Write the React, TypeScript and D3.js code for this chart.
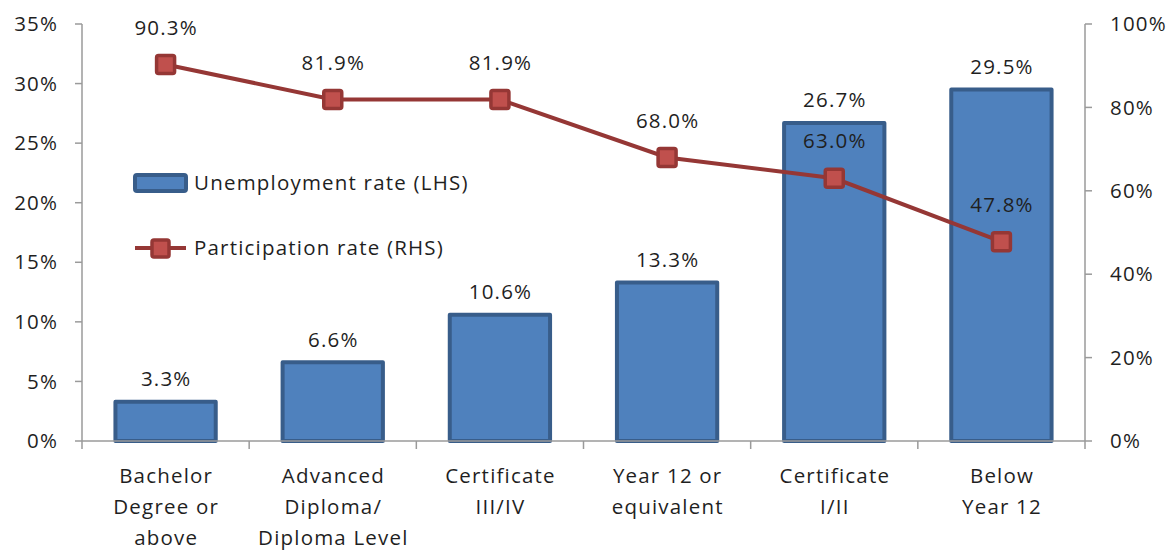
import React, { useEffect, useRef } from "react";
import * as d3 from "d3";

const categories = [
  ["Bachelor", "Degree or", "above"],
  ["Advanced", "Diploma/", "Diploma Level"],
  ["Certificate", "III/IV"],
  ["Year 12 or", "equivalent"],
  ["Certificate", "I/II"],
  ["Below", "Year 12"],
];
const unemployment = [3.3, 6.6, 10.6, 13.3, 26.7, 29.5];
const participation = [90.3, 81.9, 81.9, 68.0, 63.0, 47.8];
const leftTicks = [0, 5, 10, 15, 20, 25, 30, 35];
const rightTicks = [0, 20, 40, 60, 80, 100];

const W = 1172, H = 556;
const FONT = "'Open Sans', Lato, sans-serif";
const FS = 20.5;
const LS = 1.2;

export default function App() {
  const ref = useRef<SVGSVGElement>(null);
  useEffect(() => {
    const svg = d3.select(ref.current);
    svg.selectAll("*").remove();
    const x0 = 82, x1 = 1085, yTop = 24, yBot = 441;
    const x = d3.scaleBand<number>().domain(d3.range(categories.length)).range([x0, x1]).paddingInner(0.4).paddingOuter(0.2);
    const band = (x1 - x0) / categories.length;
    const yL = d3.scaleLinear().domain([0, 35]).range([yBot, yTop]);
    const yR = d3.scaleLinear().domain([0, 100]).range([yBot, yTop]);
    const axisColor = "#9a9a9a";
    const txt = "#1f1f1f";
    const g = svg.append("g");
    const label = (xx: number, yy: number, s: string, anchor: string, dy = "0.35em") => {
      const shift = anchor === "middle" ? LS / 2 : anchor === "end" ? LS : 0;
      g.append("text").attr("x", xx + shift).attr("y", yy).attr("dy", dy).attr("text-anchor", anchor)
        .attr("font-family", FONT).attr("font-size", FS).attr("letter-spacing", LS).attr("fill", txt).text(s);
    };

    // axes
    g.append("line").attr("x1", x0).attr("x2", x0).attr("y1", yTop).attr("y2", yBot).attr("stroke", axisColor).attr("stroke-width", 1.5);
    g.append("line").attr("x1", x1).attr("x2", x1).attr("y1", yTop).attr("y2", yBot).attr("stroke", axisColor).attr("stroke-width", 1.5);
    leftTicks.forEach((t) => {
      g.append("line").attr("x1", x0 - 7).attr("x2", x0).attr("y1", yL(t)).attr("y2", yL(t)).attr("stroke", axisColor).attr("stroke-width", 1.5);
      label(57, yL(t), `${t}%`, "end");
    });
    rightTicks.forEach((t) => {
      g.append("line").attr("x1", x1).attr("x2", x1 + 7).attr("y1", yR(t)).attr("y2", yR(t)).attr("stroke", axisColor).attr("stroke-width", 1.5);
      label(1110, yR(t), `${t}%`, "start");
    });
    // category ticks
    d3.range(categories.length + 1).forEach((i) => {
      const xx = x0 + i * band;
      g.append("line").attr("x1", xx).attr("x2", xx).attr("y1", yBot).attr("y2", yBot + 8).attr("stroke", axisColor).attr("stroke-width", 1.5);
    });

    // bars
    unemployment.forEach((v, i) => {
      g.append("rect").attr("x", x(i)!).attr("width", x.bandwidth()).attr("y", yL(v)).attr("height", yBot - yL(v))
        .attr("fill", "#4F81BD").attr("stroke", "#385D8A").attr("stroke-width", 4).attr("stroke-linejoin", "round");
      label(x(i)! + x.bandwidth() / 2, yL(v) - 23, `${v.toFixed(1)}%`, "middle");
    });
    g.append("line").attr("x1", x0).attr("x2", x1).attr("y1", yBot).attr("y2", yBot).attr("stroke", axisColor).attr("stroke-width", 1.5);

    // line
    const cx = (i: number) => x(i)! + x.bandwidth() / 2;
    const line = d3.line<number>().x((_, i) => cx(i)).y((d) => yR(d));
    g.append("path").datum(participation).attr("d", line).attr("fill", "none").attr("stroke", "#953735").attr("stroke-width", 4);
    participation.forEach((v, i) => {
      g.append("rect").attr("x", cx(i) - 9).attr("y", yR(v) - 9).attr("width", 18).attr("height", 18).attr("rx", 2)
        .attr("fill", "#C0504D").attr("stroke", "#953735").attr("stroke-width", 3.5);
      label(cx(i), yR(v) - 37, `${v.toFixed(1)}%`, "middle");
    });

    // x labels
    categories.forEach((lines, i) => {
      lines.forEach((l, j) => label(cx(i), 483 + j * 31, l, "middle", "0"));
    });

    // legend
    g.append("rect").attr("x", 135).attr("y", 175).attr("width", 51).attr("height", 16).attr("rx", 2)
      .attr("fill", "#4F81BD").attr("stroke", "#385D8A").attr("stroke-width", 4);
    label(194, 183, "Unemployment rate (LHS)", "start");
    g.append("line").attr("x1", 135).attr("x2", 186).attr("y1", 248).attr("y2", 248).attr("stroke", "#953735").attr("stroke-width", 4);
    g.append("rect").attr("x", 152).attr("y", 240).attr("width", 17).attr("height", 17).attr("rx", 2)
      .attr("fill", "#C0504D").attr("stroke", "#953735").attr("stroke-width", 3.5);
    label(194, 248, "Participation rate (RHS)", "start");
  }, []);
  return (
    <svg ref={ref} width={W} height={H} style={{ display: "block", position: "absolute", left: 0, top: 0, background: "#fff" }} />
  );
}
